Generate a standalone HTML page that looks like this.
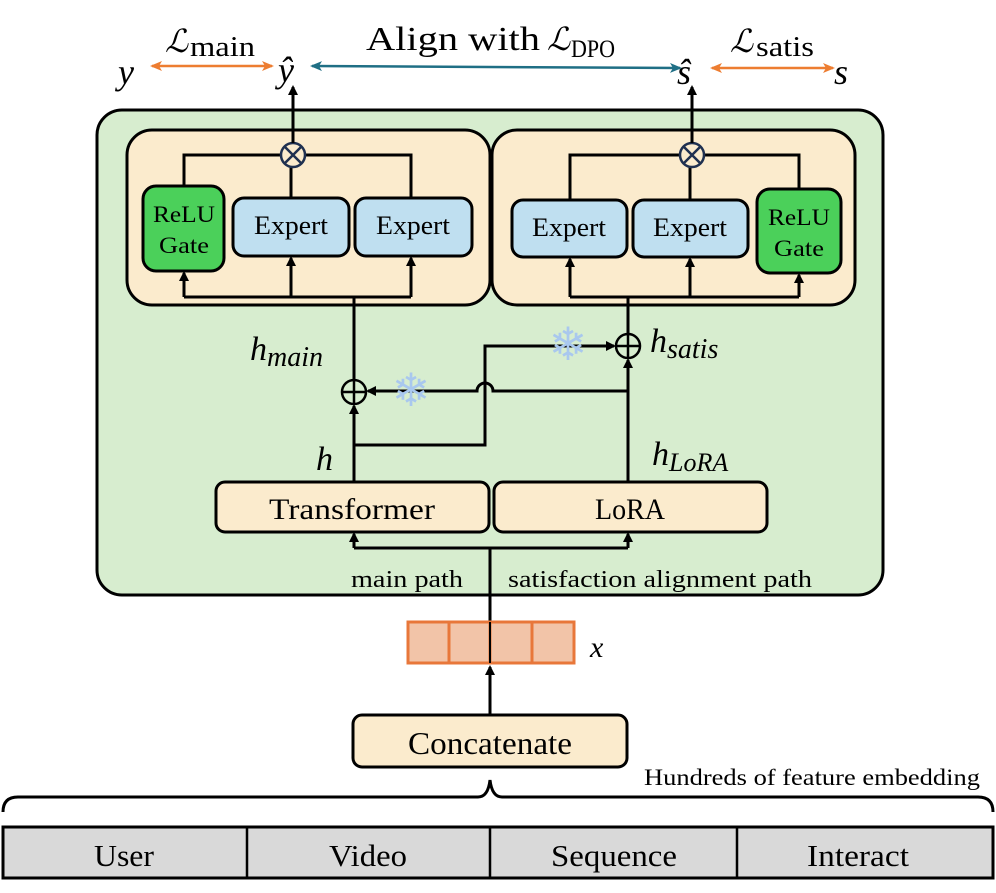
<!DOCTYPE html>
<html><head><meta charset="utf-8"><style>
html,body{margin:0;padding:0;background:#fff}
svg{display:block}
text{font-family:"Liberation Serif",serif;fill:#000}
.m{font-style:italic}
</style></head><body>
<svg width="996" height="893" viewBox="0 0 996 893" xmlns="http://www.w3.org/2000/svg">
<defs>
<marker id="a" markerWidth="10" markerHeight="10" refX="8" refY="5" orient="auto" markerUnits="userSpaceOnUse"><path d="M0,0 L10,5 L0,10 z" fill="#000"/></marker>
<marker id="o" markerWidth="12" markerHeight="10" refX="10" refY="5" orient="auto-start-reverse" markerUnits="userSpaceOnUse"><path d="M0,0 L12,5 L0,10 L3,5 z" fill="#ed7d31"/></marker>
<marker id="t" markerWidth="12" markerHeight="10" refX="10" refY="5" orient="auto-start-reverse" markerUnits="userSpaceOnUse"><path d="M0,0 L12,5 L0,10 L3,5 z" fill="#1f6f85"/></marker>
</defs>

<text x="118" y="84" font-size="36" class="m">y</text>
<text x="278" y="82" font-size="36" class="m">ŷ</text>
<text x="677" y="84" font-size="36" class="m">ŝ</text>
<text x="834" y="84" font-size="36" class="m">s</text>
<line x1="152" y1="66" x2="272" y2="66" stroke="#ed7d31" stroke-width="2.5" marker-start="url(#o)" marker-end="url(#o)"/>
<line x1="312" y1="66" x2="680" y2="68" stroke="#1f6f85" stroke-width="2.5" marker-start="url(#t)" marker-end="url(#t)"/>
<line x1="712" y1="68" x2="833" y2="68" stroke="#ed7d31" stroke-width="2.5" marker-start="url(#o)" marker-end="url(#o)"/>
<text x="165" y="52" font-size="32" class="m">ℒ</text><text x="190" y="56" font-size="28" textLength="65" lengthAdjust="spacingAndGlyphs">main</text>
<text x="366" y="50" font-size="34" textLength="174" lengthAdjust="spacingAndGlyphs">Align with</text>
<text x="547" y="50" font-size="32" class="m">ℒ</text><text x="571" y="57" font-size="25" textLength="44" lengthAdjust="spacingAndGlyphs">DPO</text>
<text x="730" y="52" font-size="32" class="m">ℒ</text><text x="756" y="56" font-size="28" textLength="58" lengthAdjust="spacingAndGlyphs">satis</text>

<rect x="97" y="110" width="786" height="485" rx="25" fill="#d7edcf" stroke="#000" stroke-width="3"/>
<rect x="127" y="130" width="363" height="175" rx="25" fill="#fbebcd" stroke="#000" stroke-width="3"/>
<rect x="492" y="130" width="363" height="175" rx="25" fill="#fbebcd" stroke="#000" stroke-width="3"/>

<polyline points="184,186 184,155 411,155 411,198" fill="none" stroke="#000" stroke-width="3"/>
<line x1="291" y1="155" x2="291" y2="198" stroke="#000" stroke-width="3"/>
<circle cx="293" cy="155" r="12" fill="#fbebcd" stroke="#1f3050" stroke-width="2.5"/>
<path d="M285,147 L301,163 M301,147 L285,163" stroke="#1f3050" stroke-width="2.5"/>
<line x1="293" y1="143" x2="293" y2="87" stroke="#000" stroke-width="3" marker-end="url(#a)"/>
<rect x="143" y="186" width="81" height="85" rx="13" fill="#4bd05a" stroke="#000" stroke-width="3"/>
<text x="184" y="222" font-size="23" text-anchor="middle" textLength="62" lengthAdjust="spacingAndGlyphs">ReLU</text>
<text x="184" y="253" font-size="23" text-anchor="middle" textLength="50" lengthAdjust="spacingAndGlyphs">Gate</text>
<rect x="233" y="198" width="116" height="58" rx="11" fill="#bfdff0" stroke="#000" stroke-width="3"/>
<text x="291" y="234" font-size="26" text-anchor="middle" textLength="74" lengthAdjust="spacingAndGlyphs">Expert</text>
<rect x="355" y="198" width="117" height="58" rx="11" fill="#bfdff0" stroke="#000" stroke-width="3"/>
<text x="413" y="234" font-size="26" text-anchor="middle" textLength="74" lengthAdjust="spacingAndGlyphs">Expert</text>
<polyline points="184,297 411,297" fill="none" stroke="#000" stroke-width="3"/>
<line x1="184" y1="297" x2="184" y2="273" stroke="#000" stroke-width="3" marker-end="url(#a)"/>
<line x1="291" y1="297" x2="291" y2="258" stroke="#000" stroke-width="3" marker-end="url(#a)"/>
<line x1="411" y1="297" x2="411" y2="258" stroke="#000" stroke-width="3" marker-end="url(#a)"/>

<polyline points="570,200 570,155 799,155 799,189" fill="none" stroke="#000" stroke-width="3"/>
<line x1="690" y1="155" x2="690" y2="200" stroke="#000" stroke-width="3"/>
<circle cx="692" cy="155" r="12" fill="#fbebcd" stroke="#1f3050" stroke-width="2.5"/>
<path d="M684,147 L700,163 M700,147 L684,163" stroke="#1f3050" stroke-width="2.5"/>
<line x1="692" y1="143" x2="692" y2="87" stroke="#000" stroke-width="3" marker-end="url(#a)"/>
<rect x="512" y="200" width="115" height="57" rx="11" fill="#bfdff0" stroke="#000" stroke-width="3"/>
<text x="569" y="236" font-size="26" text-anchor="middle" textLength="74" lengthAdjust="spacingAndGlyphs">Expert</text>
<rect x="633" y="200" width="115" height="57" rx="11" fill="#bfdff0" stroke="#000" stroke-width="3"/>
<text x="690" y="236" font-size="26" text-anchor="middle" textLength="74" lengthAdjust="spacingAndGlyphs">Expert</text>
<rect x="757" y="189" width="84" height="84" rx="13" fill="#4bd05a" stroke="#000" stroke-width="3"/>
<text x="799" y="225" font-size="23" text-anchor="middle" textLength="62" lengthAdjust="spacingAndGlyphs">ReLU</text>
<text x="799" y="256" font-size="23" text-anchor="middle" textLength="50" lengthAdjust="spacingAndGlyphs">Gate</text>
<polyline points="570,297 799,297" fill="none" stroke="#000" stroke-width="3"/>
<line x1="570" y1="297" x2="570" y2="259" stroke="#000" stroke-width="3" marker-end="url(#a)"/>
<line x1="690" y1="297" x2="690" y2="259" stroke="#000" stroke-width="3" marker-end="url(#a)"/>
<line x1="799" y1="297" x2="799" y2="275" stroke="#000" stroke-width="3" marker-end="url(#a)"/>

<line x1="354" y1="297" x2="354" y2="380" stroke="#000" stroke-width="3"/>
<line x1="354" y1="482" x2="354" y2="406" stroke="#000" stroke-width="3" marker-end="url(#a)"/>
<circle cx="354" cy="392" r="12" fill="none" stroke="#000" stroke-width="2.5"/>
<path d="M342,392 H366 M354,380 V404" stroke="#000" stroke-width="2.5"/>
<line x1="628" y1="297" x2="628" y2="334" stroke="#000" stroke-width="3"/>
<line x1="628" y1="482" x2="628" y2="360" stroke="#000" stroke-width="3" marker-end="url(#a)"/>
<circle cx="628" cy="346" r="12" fill="none" stroke="#000" stroke-width="2.5"/>
<path d="M616,346 H640 M628,334 V358" stroke="#000" stroke-width="2.5"/>
<polyline points="354,445 485,445 485,346 614,346" fill="none" stroke="#000" stroke-width="3" marker-end="url(#a)"/>
<path d="M628,391 L493,391 A8,8 0 0 0 477,391 L368,391" fill="none" stroke="#000" stroke-width="3" marker-end="url(#a)"/>
<text x="411" y="406" font-size="46" text-anchor="middle" style="fill:#a9c8ee">❄</text>
<text x="568" y="360" font-size="46" text-anchor="middle" style="fill:#a9c8ee">❄</text>

<text x="250" y="360" font-size="34" class="m">h<tspan font-size="28" dy="6">main</tspan></text>
<text x="650" y="352" font-size="34" class="m">h<tspan font-size="28" dy="6">satis</tspan></text>
<text x="316" y="470" font-size="34" class="m">h</text>
<text x="652" y="465" font-size="34" class="m">h<tspan font-size="26" dy="6">LoRA</tspan></text>

<rect x="216" y="482" width="273" height="50" rx="9" fill="#fbebcd" stroke="#000" stroke-width="3"/>
<text x="352" y="519" font-size="30" text-anchor="middle" textLength="166" lengthAdjust="spacingAndGlyphs">Transformer</text>
<rect x="494" y="482" width="273" height="50" rx="9" fill="#fbebcd" stroke="#000" stroke-width="3"/>
<text x="630" y="519" font-size="30" text-anchor="middle" textLength="70" lengthAdjust="spacingAndGlyphs">LoRA</text>

<polyline points="354,548 628,548" fill="none" stroke="#000" stroke-width="3"/>
<line x1="354" y1="548" x2="354" y2="534" stroke="#000" stroke-width="3" marker-end="url(#a)"/>
<line x1="628" y1="548" x2="628" y2="534" stroke="#000" stroke-width="3" marker-end="url(#a)"/>
<line x1="490" y1="548" x2="490" y2="642" stroke="#000" stroke-width="3"/>
<text x="351" y="587" font-size="24" textLength="112" lengthAdjust="spacingAndGlyphs">main path</text>
<text x="508" y="587" font-size="24" textLength="304" lengthAdjust="spacingAndGlyphs">satisfaction alignment path</text>

<rect x="408" y="622" width="166" height="41" fill="#f2c4a8" stroke="#e8773a" stroke-width="3"/>
<path d="M449,622 V663 M490,622 V663 M532,622 V663" stroke="#e8773a" stroke-width="3"/>
<line x1="490" y1="622" x2="490" y2="663" stroke="#000" stroke-width="2"/>
<text x="590" y="657" font-size="30" class="m">x</text>
<line x1="490" y1="715" x2="490" y2="667" stroke="#000" stroke-width="3" marker-end="url(#a)"/>

<rect x="353" y="715" width="274" height="52" rx="9" fill="#fbebcd" stroke="#000" stroke-width="3"/>
<text x="490" y="754" font-size="32" text-anchor="middle" textLength="164" lengthAdjust="spacingAndGlyphs">Concatenate</text>

<text x="980" y="785" font-size="23" text-anchor="end" textLength="336" lengthAdjust="spacingAndGlyphs">Hundreds of feature embedding</text>
<path d="M3,812 Q3,797 18,797 L478,797 Q488,797 490,780 Q492,797 502,797 L978,797 Q993,797 993,812" fill="none" stroke="#000" stroke-width="3"/>

<rect x="3" y="827" width="990" height="51" fill="#d9d9d9" stroke="#000" stroke-width="3"/>
<path d="M247,827 V878 M490,827 V878 M737,827 V878" stroke="#000" stroke-width="2.5"/>
<text x="124" y="866" font-size="31" text-anchor="middle" textLength="60" lengthAdjust="spacingAndGlyphs">User</text>
<text x="368" y="866" font-size="31" text-anchor="middle" textLength="78" lengthAdjust="spacingAndGlyphs">Video</text>
<text x="614" y="866" font-size="31" text-anchor="middle" textLength="126" lengthAdjust="spacingAndGlyphs">Sequence</text>
<text x="858" y="866" font-size="31" text-anchor="middle" textLength="102" lengthAdjust="spacingAndGlyphs">Interact</text>
</svg>
</body></html>
